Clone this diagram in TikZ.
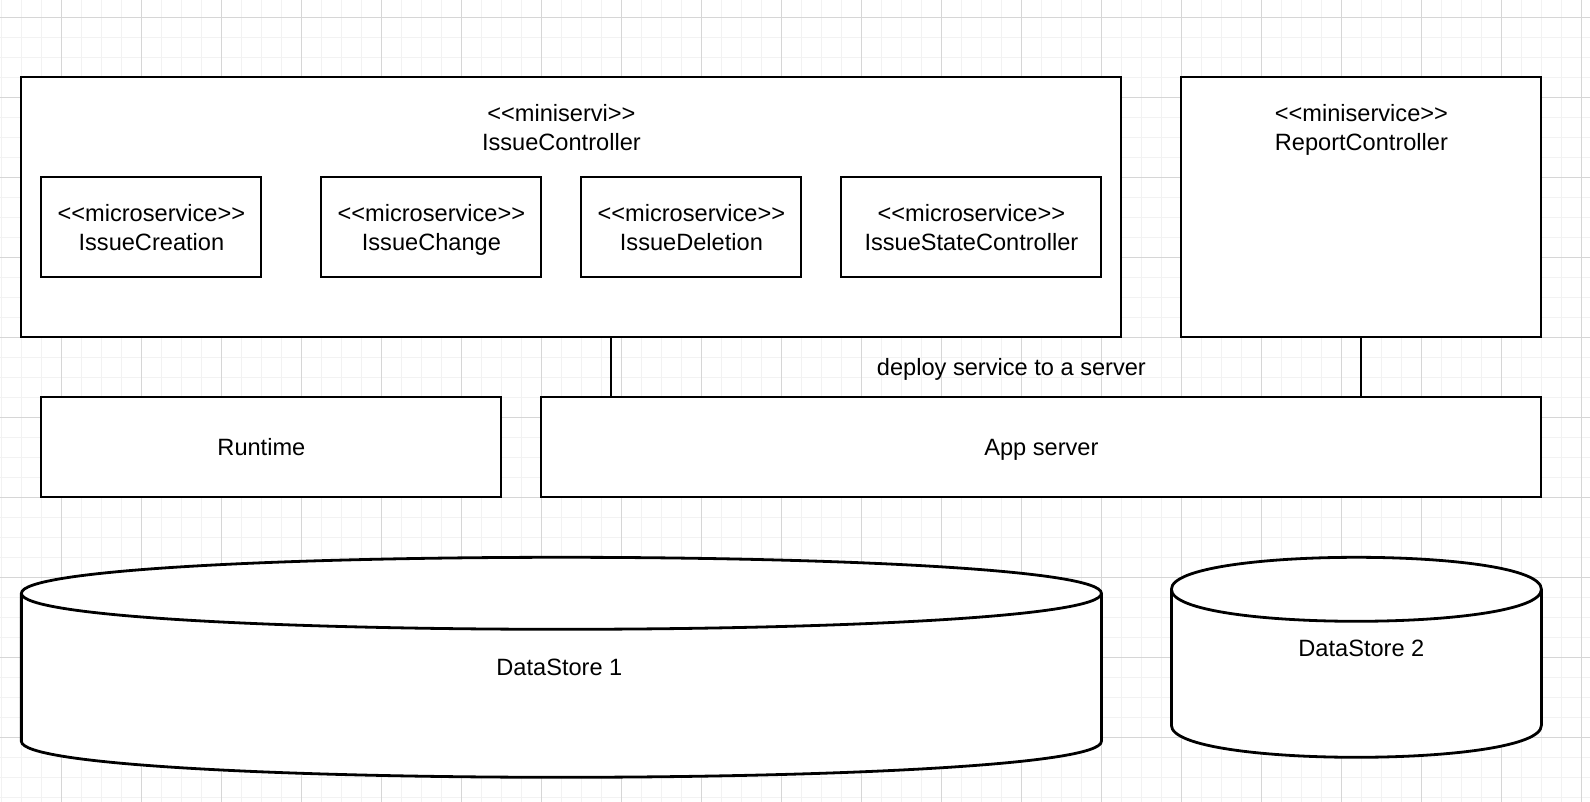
\documentclass[tikz,border=0pt]{standalone}
\usepackage{fontspec}
\setmainfont{Liberation Sans}[Ligatures=TeXOff]
\usepackage{tikz}
\usetikzlibrary{positioning,calc}
\definecolor{gridminor}{HTML}{F2F2F2}
\definecolor{gridmajor}{HTML}{D6D6D6}

\begin{document}
\begin{tikzpicture}[x=10pt, y=-10pt,
    font=\fontsize{11.8}{14.7}\selectfont,
    box/.style={draw, fill=white, line width=1pt, inner sep=0pt, align=center, text depth=0pt},
    txt/.style={inner sep=0pt, align=center, text depth=0pt},
    drum/.style={draw, fill=white, line width=1.4pt}]
  % Page and grid
  \fill[white] (-0.07,0.135) rectangle (79.43,40.235);
  \useasboundingbox (-0.07,0.135) rectangle (79.43,40.235);
  \foreach \x in {0,...,79} {
    \draw[gridminor, line width=0.5pt] (\x,0.135) -- (\x,40.235);
  }
  \foreach \y in {1,...,40} {
    \draw[gridminor, line width=0.5pt] (-0.07,\y) -- (79.43,\y);
  }
  \foreach \x in {3,7,...,79} {
    \draw[gridmajor, line width=0.5pt] (\x,0.135) -- (\x,40.235);
  }
  \foreach \y in {1,5,...,37} {
    \draw[gridmajor, line width=0.5pt] (-0.07,\y) -- (79.43,\y);
  }

  % Miniservice IssueController
  \node[box, minimum width=550pt, minimum height=130pt] (issuectl) at (28.5,10.5) {};
  \node[txt] (issuetitle) at (28,6.5) {<<miniservi>>\\IssueController};

  % Microservices
  \node[box, minimum width=110pt, minimum height=50pt] (creation) at (7.5,11.5) {<<microservice>>\\IssueCreation};
  \node[box, minimum width=110pt, minimum height=50pt] (change) at (21.5,11.5) {<<microservice>>\\IssueChange};
  \node[box, minimum width=110pt, minimum height=50pt] (deletion) at (34.5,11.5) {<<microservice>>\\IssueDeletion};
  \node[box, minimum width=130pt, minimum height=50pt] (statectl) at (48.5,11.5) {<<microservice>>\\IssueStateController};

  % Miniservice ReportController
  \node[box, minimum width=180pt, minimum height=130pt] (reportctl) at (68,10.5) {};
  \node[txt] (reporttitle) at (68,6.5) {<<miniservice>>\\ReportController};

  % Runtime and server
  \node[box, minimum width=230pt, minimum height=50pt] (runtime) at (13.5,22.5) {};
  \node[txt] (runtimetext) at (13,22.5) {Runtime};
  \node[box, minimum width=500pt, minimum height=50pt] (appserver) at (52,22.5) {App server};

  % Deployment links
  \draw[line width=1pt] ([xshift=20pt]issuectl.south) -- ([xshift=20pt]issuectl.south |- appserver.north);
  \draw[line width=1pt] (reportctl.south) -- (reportctl.south |- appserver.north);
  \node[txt] (deploytext) at (50.5,18.5) {deploy service to a server};

  % Data stores
  \draw[drum] (1,29.8) .. controls (1,27.4) and (55,27.4) .. (55,29.8) -- (55,37.2)
    .. controls (55,39.6) and (1,39.6) .. (1,37.2) -- cycle;
  \draw[drum, fill=none] (1,29.8) .. controls (1,32.2) and (55,32.2) .. (55,29.8);
  \node[txt] (store1) at (27.9,33.5) {DataStore 1};

  \draw[drum] (58.5,29.6) .. controls (58.5,27.467) and (77,27.467) .. (77,29.6) -- (77,36.4)
    .. controls (77,38.533) and (58.5,38.533) .. (58.5,36.4) -- cycle;
  \draw[drum, fill=none] (58.5,29.6) .. controls (58.5,31.733) and (77,31.733) .. (77,29.6);
  \node[txt] (store2) at (68,32.55) {DataStore 2};
\end{tikzpicture}
\end{document}
